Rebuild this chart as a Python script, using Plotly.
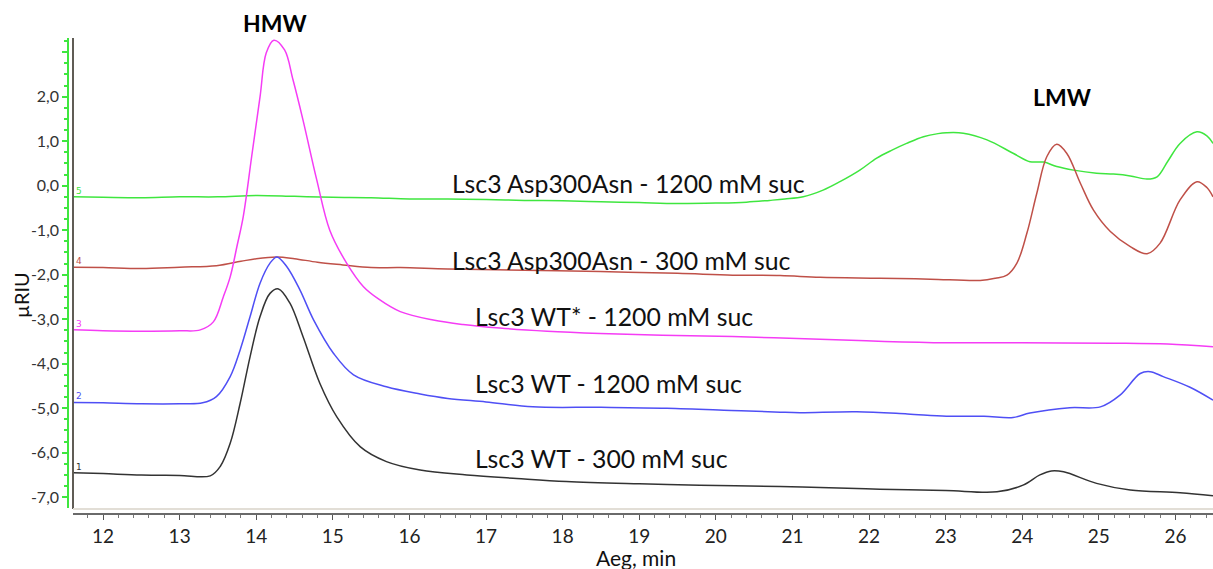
import plotly.graph_objects as go

# ---------------- data ----------------
t5 = [11.61, 12.0, 12.5, 13.0, 13.5, 14.0, 14.5, 15.0, 15.5, 16.0, 16.5, 17.0, 17.5, 18.0, 18.5, 19.0, 19.5,
      20.0, 20.4, 20.7, 20.9, 21.14, 21.4, 21.62, 21.88, 22.10, 22.3, 22.49, 22.71, 22.9, 23.01, 23.23, 23.54,
      23.88, 24.10, 24.28, 24.45, 24.67, 24.97, 25.19, 25.41, 25.63, 25.76, 25.9, 26.06, 26.28, 26.41, 26.49]
v5 = [-0.25, -0.26, -0.27, -0.25, -0.25, -0.22, -0.24, -0.26, -0.27, -0.30, -0.30, -0.31, -0.33, -0.34, -0.36,
      -0.38, -0.40, -0.39, -0.37, -0.33, -0.30, -0.25, -0.10, 0.09, 0.35, 0.62, 0.80, 0.95, 1.10, 1.17, 1.19,
      1.18, 1.03, 0.73, 0.54, 0.53, 0.43, 0.35, 0.28, 0.26, 0.22, 0.15, 0.20, 0.55, 0.95, 1.21, 1.12, 0.95]

t4 = [11.61, 12.0, 12.5, 13.0, 13.48, 13.8, 14.0, 14.27, 14.5, 14.8, 15.13, 15.5, 15.88, 16.5, 17.5, 18.49,
      19.5, 20.22, 20.84, 21.36, 22.14, 22.8, 23.45, 23.65, 23.80, 23.93, 24.06, 24.19, 24.32, 24.45, 24.58,
      24.76, 24.93, 25.15, 25.41, 25.63, 25.80, 26.06, 26.28, 26.41, 26.49]
v4 = [-1.83, -1.84, -1.86, -1.83, -1.80, -1.70, -1.64, -1.60, -1.64, -1.72, -1.78, -1.84, -1.84, -1.87, -1.90,
      -1.93, -1.97, -2.01, -2.02, -2.06, -2.08, -2.10, -2.13, -2.08, -2.01, -1.74, -1.07, -0.17, 0.65, 0.93,
      0.73, 0.05, -0.55, -1.03, -1.37, -1.53, -1.29, -0.32, 0.09, -0.04, -0.25]

t3 = [11.61, 12.0, 12.5, 13.0, 13.27, 13.44, 13.57, 13.66, 13.75, 13.83, 13.94, 14.05, 14.13, 14.23, 14.37,
      14.48, 14.61, 14.79, 14.96, 15.18, 15.40, 15.6, 15.88, 16.31, 16.7, 17.18, 17.8, 18.49, 19.3, 20.22,
      21.36, 22.2, 23.01, 24.0, 25.19, 25.9, 26.49]
v3 = [-3.24, -3.26, -3.27, -3.26, -3.24, -3.06, -2.50, -2.05, -1.35, -0.70, 0.65, 2.0, 2.98, 3.27, 3.05,
      2.38, 1.48, 0.13, -1.0, -1.74, -2.27, -2.55, -2.83, -3.02, -3.12, -3.20, -3.27, -3.32, -3.36, -3.39,
      -3.45, -3.50, -3.53, -3.53, -3.54, -3.56, -3.62]

t2 = [11.61, 12.0, 12.5, 13.0, 13.3, 13.48, 13.66, 13.79, 13.92, 14.05, 14.18, 14.27, 14.40, 14.57, 14.75,
      15.01, 15.27, 15.70, 16.14, 16.5, 17.0, 17.61, 18.5, 19.36, 20.2, 20.84, 21.10, 21.84, 22.5, 23.01,
      23.5, 23.88, 24.10, 24.62, 25.02, 25.28, 25.54, 25.67, 25.84, 26.19, 26.49]
v2 = [-4.87, -4.88, -4.90, -4.90, -4.88, -4.74, -4.29, -3.69, -2.94, -2.19, -1.74, -1.60, -1.82, -2.34, -3.02,
      -3.77, -4.25, -4.52, -4.68, -4.78, -4.86, -4.97, -4.98, -5.00, -5.05, -5.09, -5.10, -5.08, -5.13, -5.18,
      -5.18, -5.21, -5.11, -4.99, -4.97, -4.70, -4.22, -4.18, -4.29, -4.53, -4.82]

t1 = [11.61, 12.0, 12.5, 13.0, 13.40, 13.53, 13.66, 13.79, 13.92, 14.05, 14.18, 14.29, 14.44, 14.61, 14.83,
      15.05, 15.36, 15.70, 16.14, 16.75, 17.4, 18.05, 19.0, 19.79, 20.84, 21.36, 22.14, 23.0, 23.67, 24.01,
      24.23, 24.38, 24.54, 24.97, 25.41, 26.06, 26.49]
v1 = [-6.45, -6.47, -6.50, -6.51, -6.52, -6.31, -5.79, -4.89, -3.84, -2.94, -2.42, -2.32, -2.64, -3.39, -4.44,
      -5.19, -5.87, -6.20, -6.39, -6.50, -6.58, -6.65, -6.70, -6.73, -6.76, -6.78, -6.82, -6.85, -6.88, -6.73,
      -6.50, -6.41, -6.43, -6.69, -6.84, -6.90, -6.97]

series_names = ["Lsc3 Asp300Asn - 1200 mM suc", "Lsc3 Asp300Asn - 300 mM suc", "Lsc3 WT* - 1200 mM suc",
                "Lsc3 WT - 1200 mM suc", "Lsc3 WT - 300 mM suc"]
series_ids = ["5", "4", "3", "2", "1"]
series_colors = ["#3fe63f", "#bf5048", "#f53cf5", "#4f4ff5", "#333333"]
label_pos = [(16.53, 0.06), (16.53, -1.67), (16.83, -2.94), (16.83, -4.44), (16.83, -6.13)]

x_ticks = list(range(12, 27))
y_tickvals = [-7, -6, -5, -4, -3, -2, -1, 0, 1, 2, 3]
y_ticktext = ["-7,0", "-6,0", "-5,0", "-4,0", "-3,0", "-2,0", "-1,0", "0,0", "1,0", "2,0", ""]

# ---------------- figure ----------------
FONT = "Lato"
fig = go.Figure()
data = [(t5, v5), (t4, v4), (t3, v3), (t2, v2), (t1, v1)]
for (tx, vy), name, col in zip(data, series_names, series_colors):
    fig.add_trace(go.Scatter(x=tx, y=vy, mode="lines", name=name,
                             line=dict(color=col, width=1.5, shape="spline", smoothing=1.0),
                             showlegend=False, hoverinfo="skip"))

ann = []
for (lx, ly), name in zip(label_pos, series_names):
    ann.append(dict(x=lx, y=ly, xref="x", yref="y", text=name, showarrow=False, xanchor="left",
                    yanchor="middle", font=dict(family=FONT, size=24.8, color="#111111")))
for (tx, vy), sid, col in zip(data, series_ids, series_colors):
    ann.append(dict(x=tx[0], y=vy[0], xref="x", yref="y", text=sid, showarrow=False, xanchor="left",
                    yanchor="bottom", xshift=1, yshift=-1, font=dict(family="DejaVu Sans", size=9, color=col)))
ann.append(dict(x=14.25, y=(514 - 22.7) / 476, xref="x", yref="paper", text="<b>HMW</b>", showarrow=False,
                xanchor="center", yanchor="middle", font=dict(family=FONT, size=23, color="#000000")))
ann.append(dict(x=24.52, y=2.0, xref="x", yref="y", text="<b>LMW</b>", showarrow=False,
                xanchor="center", yanchor="middle", font=dict(family=FONT, size=23, color="#000000")))
ann.append(dict(x=(636 - 68) / 1145, y=-(557 - 514) / 476, xref="paper", yref="paper", text="Aeg, min",
                showarrow=False, xanchor="center", yanchor="middle",
                font=dict(family=FONT, size=21, color="#111111")))
ann.append(dict(x=(21 - 68) / 1145, y=(514 - 295) / 476, xref="paper", yref="paper", text="µRIU",
                textangle=-90, showarrow=False, xanchor="center", yanchor="middle",
                font=dict(family=FONT, size=20, color="#111111")))

fig.update_layout(
    width=1213, height=569,
    margin=dict(l=68, r=0, t=38, b=55, autoexpand=False),
    paper_bgcolor="white", plot_bgcolor="white",
    annotations=ann,
    xaxis=dict(domain=[5 / 1145, 1], range=[11.608, 26.49], anchor="free", position=0, automargin=False,
               tickvals=x_ticks, ticks="outside", ticklen=5, tickcolor="#555555", tickwidth=1,
               showline=True, linecolor="#6a6a6a", linewidth=1.5, showgrid=False, zeroline=False,
               tickfont=dict(family=FONT, size=19, color="#222222"),
               minor=dict(dtick=0.2, ticks="outside", ticklen=3, tickcolor="#777777", showgrid=False)),
    yaxis=dict(domain=[6 / 476, 1], range=[-7.243, 3.319], anchor="free", position=0, automargin=False,
               tickvals=y_tickvals, ticktext=y_ticktext, ticks="outside", ticklen=5,
               tickcolor="#3fe63f", tickwidth=1.5, showline=True, linecolor="#3fe63f", linewidth=1.5,
               showgrid=False, zeroline=False,
               tickfont=dict(family=FONT, size=16, color="#333333"),
               minor=dict(tick0=0, dtick=0.25, ticks="outside", ticklen=3, tickcolor="#3fe63f",
                          tickwidth=1.5, showgrid=False)),
    shapes=[
        dict(type="line", xref="x domain", yref="paper", x0=0, x1=0, y0=(514 - 509) / 476, y1=1,
             line=dict(color="#605c55", width=2)),
        dict(type="line", xref="x domain", yref="paper", x0=0, x1=1, y0=(514 - 509) / 476,
             y1=(514 - 509) / 476, line=dict(color="#e2ded6", width=2)),
    ],
)

fig.write_html("out.html", config={"displayModeBar": False},
               post_script="document.body.style.margin='0';document.body.style.overflow='hidden';")
